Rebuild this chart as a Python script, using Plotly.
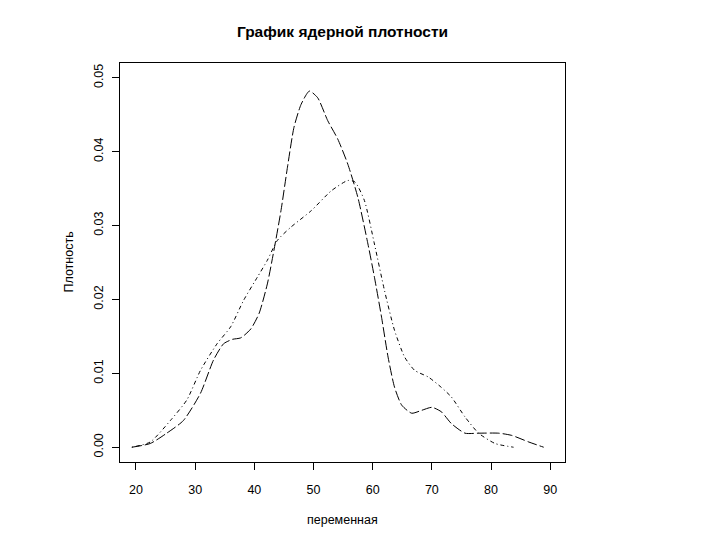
import plotly.graph_objects as go

# Series A (long dash, peaked)
xa = [19.3, 22.4, 25.2, 28.0, 30.9, 33.1, 34.8, 36.3, 37.7, 39.4, 40.8, 42.2, 43.3, 44.5,
      45.6, 46.7, 47.9, 49.3, 50.7, 52.4, 54.1, 55.8, 57.5, 59.2, 60.3, 61.5, 62.6, 63.7,
      64.9, 66.6, 68.3, 70.0, 71.6, 73.3, 75.6, 77.9, 81.3, 83.5, 86.4, 88.9]
ya = [0.0000, 0.0005, 0.0019, 0.0036, 0.0073, 0.0118, 0.0140, 0.0146, 0.0148, 0.0160,
      0.0181, 0.0221, 0.0266, 0.0320, 0.0379, 0.0433, 0.0464, 0.0482, 0.0473, 0.0442,
      0.0417, 0.0383, 0.0338, 0.0275, 0.0230, 0.0176, 0.0122, 0.0081, 0.0057, 0.0046,
      0.0050, 0.0054, 0.0048, 0.0032, 0.0019, 0.0019, 0.0019, 0.0016, 0.0007, 0.0000]

# Series B (dot-dash, broader)
xb = [19.3, 22.4, 25.8, 28.6, 30.9, 33.7, 36.0, 38.2, 40.5, 42.2, 43.9, 46.2, 49.6, 53.0,
      55.8, 57.0, 58.6, 60.3, 62.0, 63.7, 65.4, 67.1, 69.4, 71.6, 73.3, 75.6, 77.9, 80.7, 83.8]
yb = [0.0000, 0.0007, 0.0036, 0.0064, 0.0104, 0.0140, 0.0163, 0.0199, 0.0230, 0.0253,
      0.0280, 0.0298, 0.0320, 0.0347, 0.0361, 0.0359, 0.0334, 0.0275, 0.0212, 0.0158,
      0.0122, 0.0104, 0.0095, 0.0081, 0.0068, 0.0041, 0.0019, 0.0005, 0.0000]

x_ticks = [20, 30, 40, 50, 60, 70, 80, 90]
y_ticks = [0.00, 0.01, 0.02, 0.03, 0.04, 0.05]
y_tick_labels = ["0.00", "0.01", "0.02", "0.03", "0.04", "0.05"]

title_text = "График ядерной плотности"
x_title = "переменная"
y_title = "Плотность"

font_family = "Liberation Sans, Arial, sans-serif"

# page body has an 8px default margin; place everything in page coordinates
OFF = 8
W, H = 720 - OFF, 540 - OFF
left, top, right, bottom = 120 - OFF, 63 - OFF, 565 - OFF, 462 - OFF
pw, ph = right - left, bottom - top

fig = go.Figure()
fig.add_trace(go.Scatter(x=xa, y=ya, mode="lines",
                         line=dict(color="black", width=1, dash="10px,3px", shape="spline", smoothing=0.6),
                         showlegend=False))
fig.add_trace(go.Scatter(x=xb, y=yb, mode="lines",
                         line=dict(color="black", width=1, dash="1px,3px,4px,3px", shape="spline", smoothing=0.6),
                         showlegend=False))

fig.update_layout(
    width=W, height=H,
    paper_bgcolor="white", plot_bgcolor="white",
    margin=dict(l=left, r=W - right, t=top, b=H - bottom, pad=0, autoexpand=False),
    font=dict(family=font_family, size=12.5, color="black"),
    title=dict(text="<b>" + title_text + "</b>", x=((left + right) / 2) / W, xanchor="center",
               y=1 - (32 - OFF) / H, yanchor="middle", font=dict(size=15.5, family=font_family)),
    xaxis=dict(range=[17.3, 92.5], tickvals=x_ticks, ticktext=[str(v) for v in x_ticks],
               ticks="outside", ticklen=7, tickwidth=1, tickcolor="black",
               showline=True, linecolor="black", linewidth=1, mirror=True,
               showgrid=False, zeroline=False, ticklabelstandoff=9, automargin=False),
    yaxis=dict(range=[-0.002, 0.052], tickvals=y_ticks, ticktext=y_tick_labels,
               ticks="outside", ticklen=7, tickwidth=1, tickcolor="black", tickangle=-90,
               showline=True, linecolor="black", linewidth=1, mirror=True,
               showgrid=False, zeroline=False, ticklabelstandoff=4, automargin=False),
    annotations=[
        dict(text=x_title, xref="paper", yref="paper", x=0.5, y=-(520 - 462) / ph,
             xanchor="center", yanchor="middle", showarrow=False, font=dict(size=12.5)),
        dict(text=y_title, xref="paper", yref="paper", x=-(120 - 68) / pw, y=0.5,
             xanchor="center", yanchor="middle", showarrow=False, textangle=-90, font=dict(size=12.5)),
    ],
)

fig.write_html("out.html")
